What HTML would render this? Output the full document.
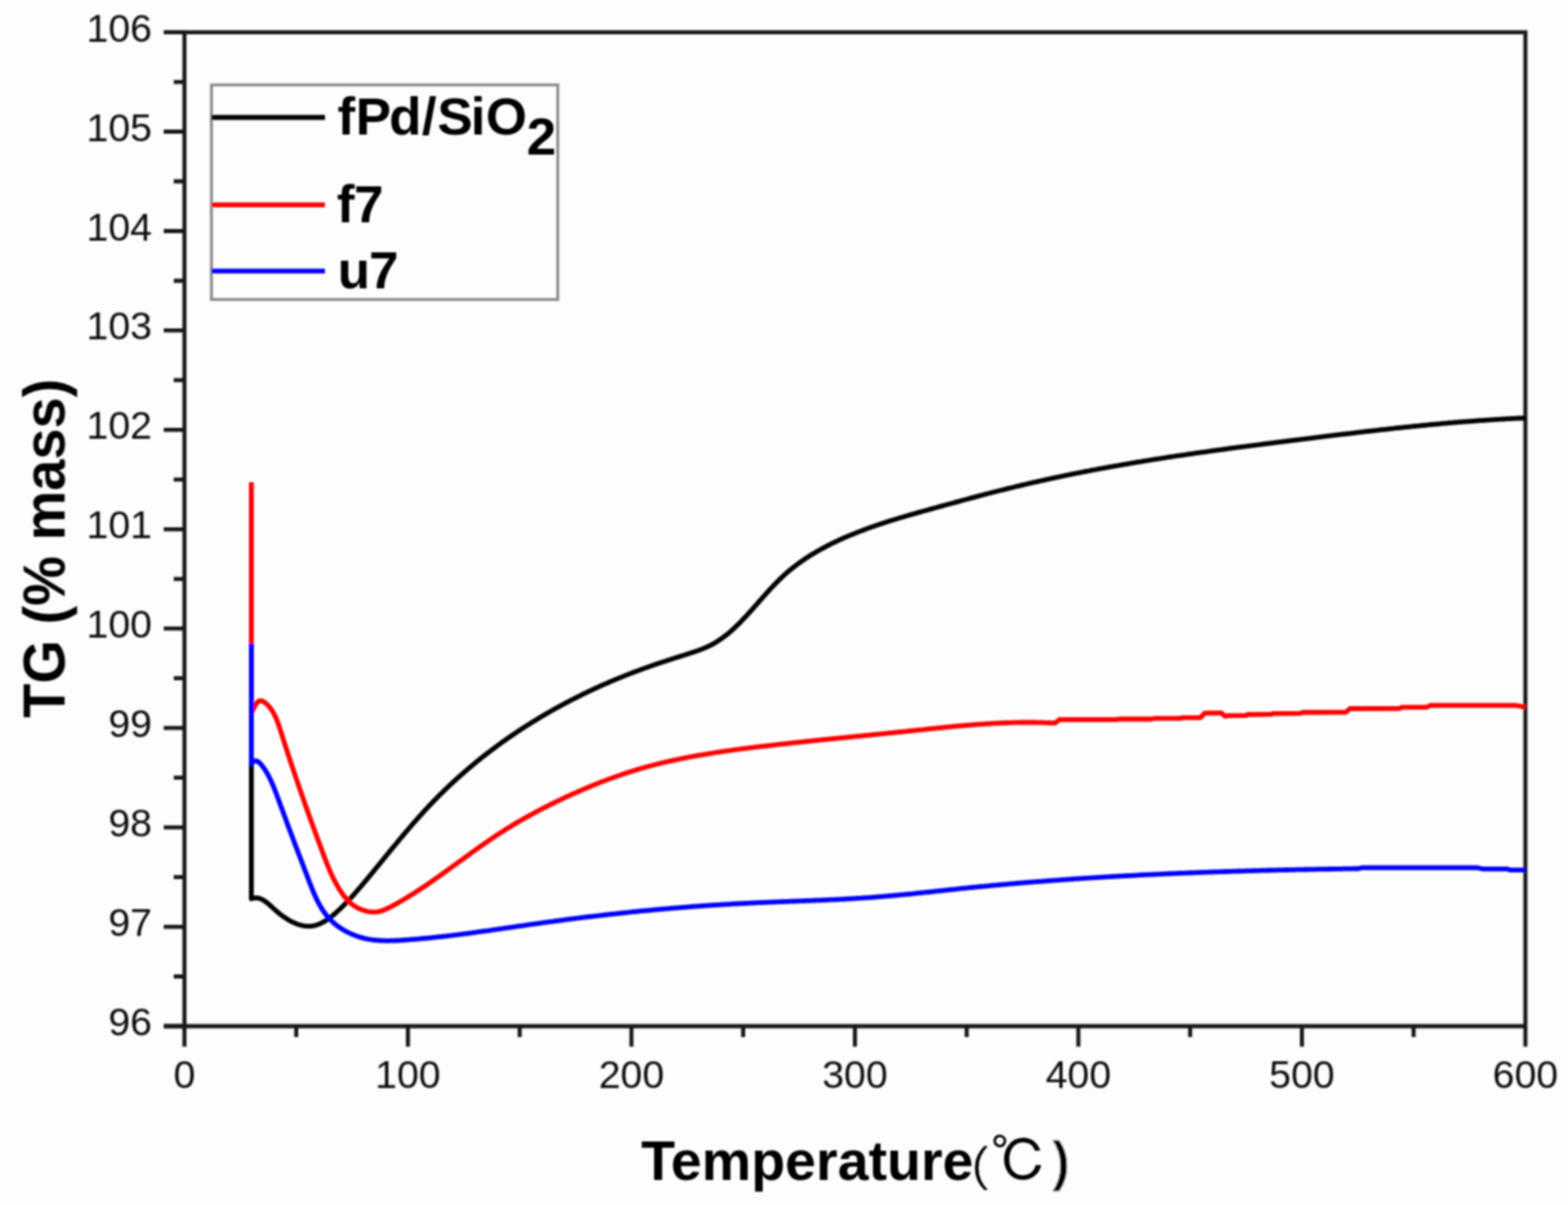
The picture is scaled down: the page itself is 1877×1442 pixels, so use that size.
<!DOCTYPE html>
<html><head><meta charset="utf-8"><title>TG curves</title>
<style>
html,body{margin:0;padding:0;background:#fdfdfd;}
body{width:1877px;height:1442px;overflow:hidden;}
svg{display:block;}
.sans{font-family:"Liberation Sans","Noto Sans CJK SC",sans-serif;}
</style></head>
<body>
<svg width="1877" height="1442" viewBox="0 0 1877 1442">
<defs><filter id="bl" x="0" y="0" width="1877" height="1442" filterUnits="userSpaceOnUse"><feGaussianBlur stdDeviation="0.9"/></filter></defs>
<rect width="1877" height="1442" fill="#fdfdfd"/>
<g filter="url(#bl)">
<g fill="none" stroke="#151515" stroke-width="4.8">
<path d="M196 38.6 H1826.0 V1228.0"/>
<path d="M220.8 38.6 V1228.0"/>
<path d="M196 1228.0 H1826.0"/>
<path d="M196 1228.0 H220.8 M208 1168.5 H220.8 M196 1109.1 H220.8 M208 1049.6 H220.8 M196 990.1 H220.8 M208 930.6 H220.8 M196 871.2 H220.8 M208 811.7 H220.8 M196 752.2 H220.8 M208 692.8 H220.8 M196 633.3 H220.8 M208 573.8 H220.8 M196 514.4 H220.8 M208 454.9 H220.8 M196 395.4 H220.8 M208 336.0 H220.8 M196 276.5 H220.8 M208 217.0 H220.8 M196 157.5 H220.8 M208 98.1 H220.8 M196 38.6 H220.8 M220.8 1228.0 V1252.5 M354.6 1228.0 V1241 M488.3 1228.0 V1252.5 M622.1 1228.0 V1241 M755.9 1228.0 V1252.5 M889.6 1228.0 V1241 M1023.4 1228.0 V1252.5 M1157.2 1228.0 V1241 M1290.9 1228.0 V1252.5 M1424.7 1228.0 V1241 M1558.5 1228.0 V1252.5 M1692.2 1228.0 V1241 M1826.0 1228.0 V1252.5"/>
</g>
<g class="sans" font-size="47" fill="#111">
<text x="182" y="1239.0" text-anchor="end">96</text>
<text x="182" y="1120.1" text-anchor="end">97</text>
<text x="182" y="1001.1" text-anchor="end">98</text>
<text x="182" y="882.2" text-anchor="end">99</text>
<text x="182" y="763.2" text-anchor="end">100</text>
<text x="182" y="644.3" text-anchor="end">101</text>
<text x="182" y="525.4" text-anchor="end">102</text>
<text x="182" y="406.4" text-anchor="end">103</text>
<text x="182" y="287.5" text-anchor="end">104</text>
<text x="182" y="168.5" text-anchor="end">105</text>
<text x="182" y="49.6" text-anchor="end">106</text>
<text x="220.8" y="1302" text-anchor="middle">0</text>
<text x="488.3" y="1302" text-anchor="middle">100</text>
<text x="755.9" y="1302" text-anchor="middle">200</text>
<text x="1023.4" y="1302" text-anchor="middle">300</text>
<text x="1290.9" y="1302" text-anchor="middle">400</text>
<text x="1558.5" y="1302" text-anchor="middle">500</text>
<text x="1826.0" y="1302" text-anchor="middle">600</text>
</g>
<g fill="none" stroke-width="5.8" stroke-linejoin="round" stroke-linecap="butt">
<path stroke="#000" d="M300.9 905.0L300.9 1075.5L302.8 1074.9L304.6 1074.6L306.4 1074.5L308.1 1074.6L309.7 1074.9L311.4 1075.4L313.0 1076.0L314.6 1076.8L316.1 1077.7L317.6 1078.8L319.1 1079.9L320.7 1081.1L322.2 1082.4L323.7 1083.8L325.2 1085.1L326.7 1086.5L328.3 1088.0L329.9 1089.4L331.5 1090.8L333.1 1092.1L334.7 1093.5L336.4 1094.8L338.1 1096.0L339.9 1097.3L341.6 1098.4L343.4 1099.6L345.2 1100.7L346.9 1101.7L348.8 1102.7L350.6 1103.6L352.4 1104.4L354.2 1105.2L356.1 1105.9L357.9 1106.5L359.8 1107.1L361.7 1107.5L363.5 1107.9L365.4 1108.2L367.2 1108.3L369.1 1108.4L370.9 1108.4L372.7 1108.3L374.6 1108.0L376.4 1107.7L378.2 1107.2L380.0 1106.6L381.8 1105.9L383.5 1105.2L385.3 1104.3L387.0 1103.4L388.7 1102.4L390.4 1101.4L392.1 1100.2L393.8 1099.0L395.5 1097.8L397.1 1096.5L398.8 1095.2L400.4 1093.8L402.0 1092.4L403.5 1091.0L405.1 1089.5L406.6 1088.1L408.2 1086.6L409.6 1085.2L411.1 1083.7L412.6 1082.2L414.0 1080.8L415.5 1079.3L416.9 1077.8L418.3 1076.3L419.6 1074.9L421.0 1073.4L422.3 1071.9L423.7 1070.4L425.0 1068.9L426.3 1067.4L427.6 1065.9L428.9 1064.4L430.2 1062.9L431.5 1061.5L432.8 1059.9L434.1 1058.4L435.3 1056.9L436.6 1055.4L437.9 1053.9L439.1 1052.4L440.4 1050.9L441.6 1049.4L442.9 1047.8L444.1 1046.3L445.4 1044.8L446.7 1043.2L447.9 1041.7L449.2 1040.2L450.4 1038.6L451.7 1037.1L452.9 1035.6L454.2 1034.0L455.5 1032.5L456.7 1030.9L458.0 1029.4L459.2 1027.8L460.5 1026.3L461.8 1024.7L463.0 1023.2L464.3 1021.6L465.6 1020.1L466.8 1018.5L468.1 1017.0L469.4 1015.4L470.6 1013.9L471.9 1012.3L473.2 1010.8L474.5 1009.3L475.8 1007.7L477.0 1006.2L478.3 1004.6L479.6 1003.1L480.9 1001.5L482.2 1000.0L483.5 998.5L484.8 996.9L486.1 995.4L487.4 993.8L488.7 992.3L490.0 990.8L491.3 989.3L492.7 987.7L494.0 986.2L495.3 984.7L496.6 983.2L498.0 981.7L499.3 980.2L500.6 978.7L502.0 977.2L503.3 975.7L504.7 974.2L506.0 972.7L507.4 971.2L508.7 969.7L510.1 968.2L511.5 966.8L512.8 965.3L514.2 963.8L515.6 962.4L517.0 960.9L518.4 959.5L519.8 958.0L521.2 956.6L522.6 955.2L524.0 953.8L525.4 952.3L526.8 950.9L528.3 949.5L529.7 948.1L531.1 946.7L532.6 945.3L534.0 943.9L535.5 942.5L536.9 941.1L538.4 939.8L539.8 938.4L541.3 937.0L542.8 935.7L544.2 934.3L545.7 933.0L547.2 931.6L548.7 930.3L550.2 929.0L551.7 927.6L553.2 926.3L554.7 925.0L556.2 923.7L557.7 922.4L559.2 921.1L560.8 919.8L562.3 918.5L563.8 917.2L565.4 915.9L566.9 914.6L568.4 913.4L570.0 912.1L571.5 910.8L573.1 909.6L574.6 908.3L576.2 907.1L577.8 905.8L579.3 904.6L580.9 903.4L582.5 902.1L584.1 900.9L585.7 899.7L587.3 898.5L588.9 897.3L590.5 896.1L592.1 894.9L593.7 893.7L595.3 892.5L596.9 891.3L598.5 890.2L600.1 889.0L601.7 887.8L603.4 886.7L605.0 885.5L606.6 884.4L608.3 883.2L609.9 882.1L611.6 880.9L613.2 879.8L614.9 878.7L616.5 877.6L618.2 876.5L619.8 875.3L621.5 874.2L623.2 873.1L624.9 872.1L626.5 871.0L628.2 869.9L629.9 868.8L631.6 867.7L633.3 866.7L635.0 865.6L636.7 864.5L638.4 863.5L640.1 862.4L641.8 861.4L643.5 860.4L645.2 859.3L646.9 858.3L648.6 857.3L650.3 856.3L652.1 855.2L653.8 854.2L655.5 853.2L657.3 852.2L659.0 851.2L660.7 850.3L662.5 849.3L664.2 848.3L666.0 847.3L667.7 846.4L669.5 845.4L671.2 844.4L673.0 843.5L674.8 842.5L676.5 841.6L678.3 840.7L680.1 839.7L681.9 838.8L683.6 837.9L685.4 837.0L687.2 836.1L689.0 835.2L690.8 834.3L692.6 833.4L694.4 832.5L696.1 831.6L697.9 830.7L699.7 829.8L701.6 829.0L703.4 828.1L705.2 827.2L707.0 826.4L708.8 825.5L710.6 824.7L712.4 823.8L714.2 823.0L716.1 822.2L717.9 821.4L719.7 820.5L721.6 819.7L723.4 818.9L725.2 818.1L727.1 817.3L728.9 816.5L730.7 815.7L732.6 814.9L734.4 814.2L736.3 813.4L738.1 812.6L740.0 811.8L741.8 811.1L743.7 810.3L745.5 809.6L747.4 808.8L749.3 808.1L751.1 807.4L753.0 806.6L754.9 805.9L756.7 805.2L758.6 804.5L760.5 803.8L762.4 803.1L764.2 802.4L766.1 801.7L768.0 801.0L769.9 800.3L771.8 799.6L773.7 798.9L775.6 798.3L777.4 797.6L779.3 797.0L781.2 796.3L783.1 795.6L785.0 795.0L786.9 794.3L788.8 793.7L790.7 793.1L792.6 792.4L794.5 791.8L796.4 791.2L798.4 790.5L800.3 789.9L802.2 789.3L804.1 788.7L806.0 788.1L807.9 787.4L809.8 786.8L811.7 786.2L813.7 785.6L815.6 785.0L817.5 784.4L819.4 783.8L821.3 783.2L823.3 782.5L825.2 781.9L827.1 781.3L829.0 780.7L831.0 780.1L832.9 779.4L834.8 778.8L836.7 778.1L838.5 777.4L840.4 776.7L842.3 775.9L844.1 775.2L845.9 774.4L847.7 773.6L849.5 772.7L851.3 771.8L853.0 770.9L854.7 769.9L856.4 768.9L858.1 767.9L859.8 766.8L861.4 765.8L863.0 764.6L864.7 763.5L866.2 762.3L867.8 761.1L869.4 759.9L870.9 758.7L872.5 757.4L874.0 756.1L875.5 754.8L877.0 753.5L878.4 752.1L879.9 750.8L881.3 749.4L882.8 748.0L884.2 746.6L885.6 745.2L887.0 743.7L888.4 742.3L889.8 740.8L891.2 739.4L892.6 737.9L894.0 736.4L895.3 734.9L896.7 733.4L898.0 731.9L899.4 730.4L900.7 728.9L902.1 727.4L903.4 725.9L904.7 724.4L906.1 722.9L907.4 721.4L908.7 719.8L910.1 718.3L911.4 716.8L912.7 715.3L914.1 713.8L915.4 712.3L916.8 710.8L918.1 709.3L919.5 707.8L920.8 706.3L922.2 704.8L923.5 703.4L924.9 701.9L926.3 700.5L927.7 699.0L929.1 697.6L930.5 696.2L931.9 694.7L933.3 693.3L934.8 692.0L936.2 690.6L937.7 689.2L939.1 687.9L940.6 686.5L942.1 685.2L943.6 683.9L945.1 682.6L946.7 681.4L948.2 680.1L949.8 678.9L951.4 677.7L952.9 676.5L954.5 675.3L956.1 674.1L957.8 672.9L959.4 671.8L961.0 670.6L962.7 669.5L964.3 668.4L966.0 667.3L967.7 666.2L969.3 665.1L971.0 664.1L972.7 663.0L974.5 662.0L976.2 661.0L977.9 660.0L979.6 659.0L981.4 658.0L983.1 657.0L984.9 656.1L986.7 655.1L988.4 654.2L990.2 653.2L992.0 652.3L993.8 651.4L995.6 650.5L997.4 649.6L999.2 648.8L1001.0 647.9L1002.8 647.1L1004.7 646.2L1006.5 645.4L1008.3 644.6L1010.2 643.7L1012.0 642.9L1013.8 642.2L1015.7 641.4L1017.5 640.6L1019.4 639.8L1021.3 639.1L1023.1 638.3L1025.0 637.6L1026.8 636.8L1028.7 636.1L1030.6 635.4L1032.5 634.7L1034.3 634.0L1036.2 633.3L1038.1 632.6L1040.0 631.9L1041.9 631.2L1043.7 630.6L1045.6 629.9L1047.5 629.3L1049.4 628.6L1051.3 628.0L1053.2 627.3L1055.1 626.7L1057.0 626.1L1058.9 625.5L1060.8 624.8L1062.7 624.2L1064.6 623.6L1066.5 623.0L1068.4 622.4L1070.3 621.8L1072.3 621.3L1074.2 620.7L1076.1 620.1L1078.0 619.5L1079.9 619.0L1081.8 618.4L1083.8 617.8L1085.7 617.3L1087.6 616.7L1089.5 616.1L1091.4 615.6L1093.4 615.0L1095.3 614.5L1097.2 613.9L1099.1 613.4L1101.1 612.9L1103.0 612.3L1104.9 611.8L1106.9 611.2L1108.8 610.7L1110.7 610.2L1112.6 609.6L1114.6 609.1L1116.5 608.6L1118.4 608.0L1120.4 607.5L1122.3 607.0L1124.2 606.4L1126.2 605.9L1128.1 605.4L1130.0 604.8L1132.0 604.3L1133.9 603.8L1135.8 603.2L1137.8 602.7L1139.7 602.2L1141.6 601.7L1143.6 601.1L1145.5 600.6L1147.4 600.1L1149.4 599.6L1151.3 599.0L1153.2 598.5L1155.2 598.0L1157.1 597.5L1159.0 597.0L1161.0 596.4L1162.9 595.9L1164.8 595.4L1166.8 594.9L1168.7 594.4L1170.6 593.9L1172.6 593.3L1174.5 592.8L1176.5 592.3L1178.4 591.8L1180.3 591.3L1182.3 590.8L1184.2 590.3L1186.2 589.8L1188.1 589.3L1190.0 588.8L1192.0 588.3L1193.9 587.8L1195.9 587.3L1197.8 586.8L1199.8 586.3L1201.7 585.9L1203.6 585.4L1205.6 584.9L1207.5 584.4L1209.5 583.9L1211.4 583.5L1213.4 583.0L1215.3 582.5L1217.3 582.0L1219.2 581.6L1221.2 581.1L1223.1 580.6L1225.0 580.2L1227.0 579.7L1228.9 579.3L1230.9 578.8L1232.8 578.3L1234.8 577.9L1236.7 577.4L1238.7 577.0L1240.7 576.6L1242.6 576.1L1244.6 575.7L1246.5 575.2L1248.5 574.8L1250.4 574.4L1252.4 573.9L1254.3 573.5L1256.3 573.1L1258.2 572.7L1260.2 572.2L1262.2 571.8L1264.1 571.4L1266.1 571.0L1268.0 570.6L1270.0 570.2L1272.0 569.8L1273.9 569.3L1275.9 568.9L1277.8 568.5L1279.8 568.1L1281.8 567.7L1283.7 567.3L1285.7 566.9L1287.6 566.5L1289.6 566.2L1291.6 565.8L1293.5 565.4L1295.5 565.0L1297.5 564.6L1299.4 564.2L1301.4 563.8L1303.4 563.5L1305.3 563.1L1307.3 562.7L1309.3 562.3L1311.2 562.0L1313.2 561.6L1315.2 561.2L1317.1 560.9L1319.1 560.5L1321.1 560.1L1323.0 559.8L1325.0 559.4L1327.0 559.1L1328.9 558.7L1330.9 558.4L1332.9 558.0L1334.9 557.7L1336.8 557.3L1338.8 557.0L1340.8 556.6L1342.7 556.3L1344.7 555.9L1346.7 555.6L1348.7 555.3L1350.6 554.9L1352.6 554.6L1354.6 554.2L1356.6 553.9L1358.5 553.6L1360.5 553.2L1362.5 552.9L1364.5 552.6L1366.4 552.3L1368.4 551.9L1370.4 551.6L1372.4 551.3L1374.3 551.0L1376.3 550.7L1378.3 550.3L1380.3 550.0L1382.3 549.7L1384.2 549.4L1386.2 549.1L1388.2 548.8L1390.2 548.5L1392.2 548.2L1394.1 547.9L1396.1 547.5L1398.1 547.2L1400.1 546.9L1402.1 546.6L1404.0 546.3L1406.0 546.0L1408.0 545.7L1410.0 545.4L1412.0 545.1L1413.9 544.9L1415.9 544.6L1417.9 544.3L1419.9 544.0L1421.9 543.7L1423.8 543.4L1425.8 543.1L1427.8 542.8L1429.8 542.5L1431.8 542.2L1433.8 542.0L1435.7 541.7L1437.7 541.4L1439.7 541.1L1441.7 540.8L1443.7 540.6L1445.7 540.3L1447.7 540.0L1449.6 539.7L1451.6 539.5L1453.6 539.2L1455.6 538.9L1457.6 538.6L1459.6 538.4L1461.6 538.1L1463.5 537.8L1465.5 537.5L1467.5 537.3L1469.5 537.0L1471.5 536.7L1473.5 536.5L1475.5 536.2L1477.4 535.9L1479.4 535.7L1481.4 535.4L1483.4 535.2L1485.4 534.9L1487.4 534.6L1489.4 534.4L1491.4 534.1L1493.3 533.9L1495.3 533.6L1497.3 533.3L1499.3 533.1L1501.3 532.8L1503.3 532.6L1505.3 532.3L1507.3 532.1L1509.2 531.8L1511.2 531.5L1513.2 531.3L1515.2 531.0L1517.2 530.8L1519.2 530.5L1521.2 530.3L1523.2 530.0L1525.1 529.8L1527.1 529.5L1529.1 529.3L1531.1 529.0L1533.1 528.8L1535.1 528.5L1537.1 528.3L1539.1 528.0L1541.1 527.8L1543.0 527.5L1545.0 527.3L1547.0 527.0L1549.0 526.8L1551.0 526.5L1553.0 526.3L1555.0 526.1L1557.0 525.8L1559.0 525.6L1560.9 525.3L1562.9 525.1L1564.9 524.8L1566.9 524.6L1568.9 524.3L1570.9 524.1L1572.9 523.8L1574.9 523.6L1576.9 523.4L1578.8 523.1L1580.8 522.9L1582.8 522.6L1584.8 522.4L1586.8 522.1L1588.8 521.9L1590.8 521.7L1592.8 521.4L1594.7 521.2L1596.7 520.9L1598.7 520.7L1600.7 520.5L1602.7 520.2L1604.7 520.0L1606.7 519.7L1608.7 519.5L1610.7 519.3L1612.6 519.0L1614.6 518.8L1616.6 518.6L1618.6 518.3L1620.6 518.1L1622.6 517.8L1624.6 517.6L1626.6 517.4L1628.6 517.1L1630.5 516.9L1632.5 516.7L1634.5 516.5L1636.5 516.2L1638.5 516.0L1640.5 515.8L1642.5 515.5L1644.5 515.3L1646.5 515.1L1648.4 514.9L1650.4 514.6L1652.4 514.4L1654.4 514.2L1656.4 514.0L1658.4 513.8L1660.4 513.5L1662.4 513.3L1664.4 513.1L1666.3 512.9L1668.3 512.7L1670.3 512.4L1672.3 512.2L1674.3 512.0L1676.3 511.8L1678.3 511.6L1680.3 511.4L1682.3 511.2L1684.3 511.0L1686.3 510.8L1688.2 510.6L1690.2 510.4L1692.2 510.2L1694.2 510.0L1696.2 509.8L1698.2 509.6L1700.2 509.4L1702.2 509.2L1704.2 509.0L1706.2 508.8L1708.2 508.6L1710.2 508.4L1712.1 508.2L1714.1 508.0L1716.1 507.8L1718.1 507.6L1720.1 507.5L1722.1 507.3L1724.1 507.1L1726.1 506.9L1728.1 506.7L1730.1 506.6L1732.1 506.4L1734.1 506.2L1736.1 506.0L1738.1 505.9L1740.1 505.7L1742.0 505.5L1744.0 505.4L1746.0 505.2L1748.0 505.0L1750.0 504.9L1752.0 504.7L1754.0 504.6L1756.0 504.4L1758.0 504.3L1760.0 504.1L1762.0 504.0L1764.0 503.8L1766.0 503.7L1768.0 503.5L1770.0 503.4L1772.0 503.2L1774.0 503.1L1776.0 503.0L1778.0 502.8L1780.0 502.7L1782.0 502.6L1784.0 502.4L1786.0 502.3L1788.0 502.2L1790.0 502.1L1792.0 501.9L1794.0 501.8L1796.0 501.7L1798.0 501.6L1800.0 501.5L1802.0 501.4L1804.0 501.2L1806.0 501.1L1808.0 501.0L1810.0 500.9L1812.0 500.8L1814.0 500.7L1816.0 500.6L1818.0 500.5L1820.0 500.5L1822.0 500.4L1824.0 500.3L1826.0 500.2"/>
<path stroke="#ff0000" d="M300.9 577.0L300.9 853.0L301.9 851.3L302.9 849.4L303.9 847.3L304.9 845.2L306.0 843.2L307.2 841.4L308.4 840.1L309.8 839.1L311.2 838.6L312.7 838.6L314.3 839.0L315.8 839.9L317.4 841.0L318.8 842.2L320.2 843.4L321.5 844.8L322.7 846.2L323.9 847.7L325.0 849.2L326.0 850.8L327.0 852.5L327.9 854.2L328.8 855.9L329.7 857.7L330.5 859.5L331.3 861.4L332.0 863.3L332.7 865.2L333.4 867.1L334.1 869.1L334.8 871.0L335.4 873.0L336.0 875.0L336.7 877.0L337.3 879.0L337.9 880.9L338.5 882.9L339.2 884.9L339.8 886.8L340.4 888.8L341.0 890.7L341.7 892.7L342.3 894.6L342.9 896.6L343.6 898.5L344.2 900.4L344.8 902.4L345.5 904.3L346.1 906.2L346.7 908.1L347.3 910.1L348.0 912.0L348.6 913.9L349.2 915.8L349.9 917.7L350.5 919.6L351.2 921.5L351.8 923.4L352.4 925.3L353.1 927.2L353.7 929.1L354.3 931.0L355.0 932.8L355.6 934.7L356.3 936.6L356.9 938.5L357.6 940.4L358.2 942.2L358.9 944.1L359.5 946.0L360.1 947.9L360.8 949.7L361.5 951.6L362.1 953.5L362.8 955.3L363.4 957.2L364.1 959.1L364.7 961.0L365.4 962.8L366.0 964.7L366.7 966.6L367.4 968.4L368.0 970.3L368.7 972.2L369.4 974.0L370.0 975.9L370.7 977.8L371.4 979.6L372.0 981.5L372.7 983.4L373.4 985.2L374.1 987.1L374.8 989.0L375.4 990.9L376.1 992.7L376.8 994.6L377.5 996.5L378.2 998.4L378.9 1000.3L379.6 1002.1L380.3 1004.0L381.0 1005.9L381.7 1007.8L382.4 1009.7L383.1 1011.6L383.8 1013.5L384.5 1015.4L385.2 1017.3L385.9 1019.2L386.6 1021.1L387.3 1023.0L388.0 1024.9L388.8 1026.8L389.5 1028.7L390.2 1030.6L391.0 1032.5L391.7 1034.4L392.5 1036.3L393.3 1038.2L394.0 1040.1L394.8 1042.0L395.7 1043.8L396.5 1045.7L397.3 1047.5L398.2 1049.3L399.1 1051.2L400.0 1053.0L400.9 1054.7L401.8 1056.5L402.8 1058.2L403.7 1060.0L404.8 1061.7L405.8 1063.4L406.8 1065.0L407.9 1066.7L409.0 1068.3L410.2 1069.9L411.3 1071.5L412.5 1073.0L413.8 1074.5L415.0 1076.0L416.3 1077.4L417.7 1078.8L419.1 1080.2L420.6 1081.5L422.2 1082.7L423.8 1083.9L425.5 1085.0L427.3 1086.0L429.1 1087.0L431.0 1087.8L433.0 1088.6L434.9 1089.3L437.0 1089.9L439.0 1090.5L441.1 1090.9L443.1 1091.2L445.2 1091.3L447.3 1091.4L449.3 1091.4L451.3 1091.2L453.3 1090.9L455.2 1090.4L457.1 1089.9L459.0 1089.2L460.8 1088.5L462.6 1087.7L464.4 1086.8L466.2 1085.9L468.0 1085.0L469.7 1084.1L471.5 1083.1L473.3 1082.1L475.0 1081.2L476.7 1080.2L478.5 1079.2L480.2 1078.2L481.9 1077.2L483.7 1076.2L485.4 1075.2L487.1 1074.1L488.8 1073.1L490.5 1072.0L492.2 1071.0L493.9 1069.9L495.6 1068.9L497.3 1067.8L498.9 1066.7L500.6 1065.6L502.3 1064.5L504.0 1063.4L505.6 1062.3L507.3 1061.2L509.0 1060.1L510.6 1059.0L512.3 1057.9L513.9 1056.7L515.6 1055.6L517.2 1054.5L518.9 1053.3L520.5 1052.2L522.1 1051.0L523.8 1049.9L525.4 1048.7L527.0 1047.5L528.7 1046.4L530.3 1045.2L531.9 1044.1L533.6 1042.9L535.2 1041.7L536.8 1040.5L538.4 1039.4L540.1 1038.2L541.7 1037.0L543.3 1035.8L544.9 1034.7L546.5 1033.5L548.2 1032.3L549.8 1031.1L551.4 1029.9L553.0 1028.8L554.7 1027.6L556.3 1026.4L557.9 1025.2L559.5 1024.0L561.2 1022.9L562.8 1021.7L564.4 1020.5L566.0 1019.3L567.7 1018.2L569.3 1017.0L570.9 1015.8L572.6 1014.7L574.2 1013.5L575.8 1012.4L577.5 1011.2L579.1 1010.1L580.8 1008.9L582.4 1007.8L584.1 1006.6L585.7 1005.5L587.4 1004.4L589.0 1003.3L590.7 1002.1L592.4 1001.0L594.0 999.9L595.7 998.8L597.4 997.7L599.1 996.6L600.8 995.6L602.5 994.5L604.1 993.4L605.8 992.3L607.5 991.3L609.2 990.2L611.0 989.2L612.7 988.1L614.4 987.1L616.1 986.1L617.8 985.1L619.5 984.0L621.3 983.0L623.0 982.0L624.7 981.0L626.5 980.0L628.2 979.0L630.0 978.1L631.7 977.1L633.5 976.1L635.2 975.2L637.0 974.2L638.8 973.2L640.5 972.3L642.3 971.3L644.1 970.4L645.8 969.5L647.6 968.5L649.4 967.6L651.2 966.7L653.0 965.8L654.8 964.9L656.6 964.0L658.3 963.1L660.1 962.2L661.9 961.3L663.7 960.4L665.5 959.6L667.4 958.7L669.2 957.8L671.0 957.0L672.8 956.1L674.6 955.2L676.4 954.4L678.2 953.5L680.1 952.7L681.9 951.9L683.7 951.0L685.5 950.2L687.4 949.4L689.2 948.6L691.0 947.8L692.9 947.0L694.7 946.2L696.5 945.4L698.4 944.6L700.2 943.8L702.1 943.0L703.9 942.2L705.8 941.5L707.6 940.7L709.5 939.9L711.3 939.2L713.2 938.4L715.1 937.7L716.9 936.9L718.8 936.2L720.6 935.5L722.5 934.8L724.4 934.1L726.3 933.3L728.1 932.6L730.0 931.9L731.9 931.3L733.8 930.6L735.7 929.9L737.5 929.2L739.4 928.6L741.3 927.9L743.2 927.3L745.1 926.6L747.0 926.0L748.9 925.3L750.8 924.7L752.7 924.1L754.6 923.5L756.5 922.9L758.4 922.3L760.3 921.7L762.2 921.1L764.1 920.6L766.1 920.0L768.0 919.4L769.9 918.9L771.8 918.3L773.8 917.8L775.7 917.3L777.6 916.7L779.5 916.2L781.5 915.7L783.4 915.2L785.3 914.7L787.3 914.2L789.2 913.8L791.2 913.3L793.1 912.8L795.1 912.3L797.0 911.9L798.9 911.4L800.9 911.0L802.8 910.6L804.8 910.1L806.8 909.7L808.7 909.3L810.7 908.9L812.6 908.5L814.6 908.1L816.6 907.7L818.5 907.3L820.5 906.9L822.4 906.5L824.4 906.1L826.4 905.7L828.4 905.4L830.3 905.0L832.3 904.6L834.3 904.3L836.2 903.9L838.2 903.6L840.2 903.3L842.2 902.9L844.2 902.6L846.1 902.3L848.1 901.9L850.1 901.6L852.1 901.3L854.1 901.0L856.0 900.7L858.0 900.4L860.0 900.1L862.0 899.8L864.0 899.5L866.0 899.2L868.0 898.9L869.9 898.6L871.9 898.3L873.9 898.1L875.9 897.8L877.9 897.5L879.9 897.2L881.9 897.0L883.9 896.7L885.9 896.4L887.9 896.2L889.8 895.9L891.8 895.7L893.8 895.4L895.8 895.2L897.8 894.9L899.8 894.7L901.8 894.4L903.8 894.2L905.8 893.9L907.8 893.7L909.8 893.5L911.8 893.2L913.8 893.0L915.8 892.8L917.7 892.5L919.7 892.3L921.7 892.1L923.7 891.8L925.7 891.6L927.7 891.4L929.7 891.1L931.7 890.9L933.7 890.7L935.7 890.5L937.7 890.3L939.7 890.0L941.7 889.8L943.6 889.6L945.6 889.4L947.6 889.2L949.6 888.9L951.6 888.7L953.6 888.5L955.6 888.3L957.6 888.1L959.6 887.9L961.6 887.7L963.6 887.5L965.5 887.2L967.5 887.0L969.5 886.8L971.5 886.6L973.5 886.4L975.5 886.2L977.5 886.0L979.5 885.8L981.5 885.6L983.5 885.4L985.5 885.2L987.5 885.0L989.4 884.8L991.4 884.6L993.4 884.4L995.4 884.2L997.4 884.0L999.4 883.8L1001.4 883.6L1003.4 883.4L1005.4 883.2L1007.4 883.0L1009.4 882.8L1011.3 882.6L1013.3 882.4L1015.3 882.2L1017.3 882.0L1019.3 881.8L1021.3 881.6L1023.3 881.4L1025.3 881.2L1027.3 881.0L1029.3 880.8L1031.3 880.6L1033.3 880.4L1035.2 880.2L1037.2 880.0L1039.2 879.8L1041.2 879.6L1043.2 879.4L1045.2 879.2L1047.2 879.0L1049.2 878.8L1051.2 878.6L1053.2 878.4L1055.2 878.2L1057.2 878.0L1059.1 877.8L1061.1 877.6L1063.1 877.4L1065.1 877.2L1067.1 877.0L1069.1 876.8L1071.1 876.6L1073.1 876.4L1075.1 876.2L1077.1 876.0L1079.1 875.8L1081.1 875.6L1083.1 875.4L1085.1 875.2L1087.0 874.9L1089.0 874.7L1091.0 874.5L1093.0 874.3L1095.0 874.1L1097.0 873.9L1099.0 873.7L1101.0 873.5L1103.0 873.3L1105.0 873.1L1107.0 872.8L1109.0 872.6L1111.0 872.4L1113.0 872.2L1115.0 872.0L1117.0 871.8L1119.0 871.6L1121.0 871.4L1122.9 871.2L1124.9 871.0L1126.9 870.8L1128.9 870.6L1130.9 870.4L1132.9 870.2L1134.9 870.0L1136.9 869.8L1138.9 869.6L1140.9 869.4L1142.9 869.2L1144.9 869.1L1146.9 868.9L1148.9 868.7L1150.9 868.5L1152.9 868.3L1154.9 868.2L1156.9 868.0L1158.9 867.8L1160.9 867.7L1162.9 867.5L1164.9 867.3L1166.9 867.2L1168.9 867.0L1170.9 866.9L1172.9 866.7L1174.9 866.6L1176.9 866.5L1178.9 866.3L1180.9 866.2L1182.9 866.1L1184.9 865.9L1186.9 865.8L1188.9 865.7L1190.9 865.6L1192.9 865.5L1194.9 865.4L1196.9 865.3L1198.9 865.2L1200.9 865.1L1202.9 865.0L1204.9 865.0L1206.9 864.9L1208.9 864.8L1210.9 864.8L1212.9 864.7L1214.9 864.7L1216.9 864.6L1218.9 864.6L1220.9 864.5L1222.9 864.5L1224.9 864.5L1226.9 864.5L1228.9 864.5L1230.9 864.5L1232.9 864.5L1234.9 864.5L1236.9 864.5L1238.9 864.5L1240.9 864.6L1242.9 864.6L1244.9 864.6L1247.0 864.7L1249.0 864.7L1251.0 864.8L1253.0 864.9L1255.0 865.0L1257.0 865.0L1259.0 865.1L1261.0 865.2L1263.0 865.4L1268.0 861.2L1336.0 861.2L1340.0 860.5L1378.0 860.5L1383.0 859.6L1412.0 859.6L1416.0 858.8L1437.0 858.8L1442.0 853.4L1462.0 853.2L1466.5 857.2L1470.0 856.4L1491.0 856.2L1494.0 855.0L1521.0 854.9L1525.0 853.8L1556.0 853.6L1560.0 852.5L1611.0 852.4L1616.0 848.0L1675.0 847.9L1678.0 846.4L1708.0 846.3L1712.0 844.2L1814.0 844.2L1826.0 846.2"/>
<path stroke="#0000ff" d="M300.9 770.0L300.9 913.8L302.6 912.0L304.2 910.9L305.8 910.5L307.2 910.6L308.5 911.2L309.8 912.1L311.1 913.3L312.3 914.6L313.4 915.9L314.5 917.4L315.6 918.8L316.7 920.4L317.7 921.9L318.7 923.6L319.7 925.2L320.7 926.9L321.6 928.7L322.5 930.5L323.4 932.3L324.3 934.1L325.1 936.0L326.0 937.9L326.8 939.8L327.6 941.7L328.4 943.7L329.1 945.6L329.9 947.6L330.7 949.6L331.4 951.6L332.1 953.5L332.9 955.5L333.6 957.5L334.3 959.5L335.0 961.5L335.7 963.4L336.4 965.4L337.2 967.3L337.9 969.2L338.6 971.1L339.3 973.0L340.0 975.0L340.7 976.8L341.4 978.7L342.1 980.6L342.8 982.5L343.5 984.4L344.1 986.2L344.8 988.1L345.5 989.9L346.2 991.8L346.9 993.6L347.6 995.5L348.3 997.3L349.0 999.2L349.7 1001.0L350.4 1002.8L351.1 1004.7L351.7 1006.5L352.4 1008.3L353.1 1010.1L353.8 1012.0L354.5 1013.8L355.2 1015.6L355.9 1017.4L356.6 1019.3L357.3 1021.1L358.0 1022.9L358.7 1024.8L359.4 1026.6L360.1 1028.4L360.8 1030.3L361.5 1032.1L362.2 1034.0L362.9 1035.8L363.6 1037.7L364.3 1039.5L365.0 1041.4L365.7 1043.3L366.5 1045.2L367.2 1047.0L367.9 1048.9L368.6 1050.8L369.3 1052.8L370.1 1054.7L370.8 1056.6L371.6 1058.5L372.3 1060.4L373.1 1062.4L373.9 1064.3L374.6 1066.2L375.4 1068.1L376.3 1070.0L377.1 1071.9L378.0 1073.8L378.8 1075.6L379.7 1077.5L380.7 1079.3L381.6 1081.1L382.6 1082.9L383.6 1084.7L384.6 1086.4L385.7 1088.1L386.8 1089.8L387.9 1091.4L389.1 1093.1L390.3 1094.7L391.5 1096.2L392.8 1097.7L394.2 1099.2L395.5 1100.6L396.9 1102.0L398.4 1103.4L399.9 1104.7L401.4 1106.0L402.9 1107.2L404.5 1108.4L406.1 1109.6L407.8 1110.7L409.4 1111.7L411.1 1112.8L412.8 1113.8L414.6 1114.7L416.4 1115.7L418.1 1116.5L420.0 1117.4L421.8 1118.2L423.6 1118.9L425.5 1119.6L427.4 1120.3L429.3 1120.9L431.2 1121.5L433.1 1122.1L435.1 1122.6L437.0 1123.1L439.0 1123.5L440.9 1123.9L442.9 1124.2L444.8 1124.5L446.8 1124.8L448.8 1125.0L450.8 1125.2L452.8 1125.4L454.8 1125.5L456.8 1125.6L458.8 1125.7L460.8 1125.7L462.8 1125.8L464.8 1125.8L466.8 1125.7L468.8 1125.7L470.8 1125.6L472.8 1125.6L474.9 1125.5L476.9 1125.4L478.9 1125.3L480.9 1125.1L482.9 1125.0L484.9 1124.9L486.9 1124.7L489.0 1124.6L491.0 1124.4L493.0 1124.2L495.0 1124.1L497.0 1123.9L499.0 1123.8L501.0 1123.6L503.0 1123.4L505.0 1123.2L507.0 1123.0L509.0 1122.8L511.0 1122.6L513.1 1122.5L515.1 1122.3L517.1 1122.0L519.1 1121.8L521.1 1121.6L523.1 1121.4L525.1 1121.2L527.0 1121.0L529.0 1120.8L531.0 1120.5L533.0 1120.3L535.0 1120.1L537.0 1119.8L539.0 1119.6L541.0 1119.4L543.0 1119.1L545.0 1118.9L547.0 1118.6L549.0 1118.4L551.0 1118.1L553.0 1117.9L554.9 1117.6L556.9 1117.4L558.9 1117.1L560.9 1116.8L562.9 1116.6L564.9 1116.3L566.9 1116.0L568.9 1115.8L570.8 1115.5L572.8 1115.2L574.8 1115.0L576.8 1114.7L578.8 1114.4L580.8 1114.1L582.7 1113.8L584.7 1113.6L586.7 1113.3L588.7 1113.0L590.7 1112.7L592.7 1112.4L594.6 1112.2L596.6 1111.9L598.6 1111.6L600.6 1111.3L602.6 1111.0L604.6 1110.7L606.5 1110.4L608.5 1110.2L610.5 1109.9L612.5 1109.6L614.5 1109.3L616.4 1109.0L618.4 1108.7L620.4 1108.4L622.4 1108.1L624.4 1107.9L626.4 1107.6L628.3 1107.3L630.3 1107.0L632.3 1106.7L634.3 1106.4L636.3 1106.2L638.2 1105.9L640.2 1105.6L642.2 1105.3L644.2 1105.0L646.2 1104.8L648.2 1104.5L650.1 1104.2L652.1 1103.9L654.1 1103.7L656.1 1103.4L658.1 1103.1L660.1 1102.8L662.0 1102.6L664.0 1102.3L666.0 1102.0L668.0 1101.8L670.0 1101.5L672.0 1101.3L674.0 1101.0L676.0 1100.7L677.9 1100.5L679.9 1100.2L681.9 1100.0L683.9 1099.7L685.9 1099.5L687.9 1099.2L689.9 1099.0L691.9 1098.7L693.8 1098.5L695.8 1098.2L697.8 1098.0L699.8 1097.7L701.8 1097.5L703.8 1097.2L705.8 1097.0L707.8 1096.8L709.8 1096.5L711.8 1096.3L713.7 1096.1L715.7 1095.8L717.7 1095.6L719.7 1095.4L721.7 1095.1L723.7 1094.9L725.7 1094.7L727.7 1094.5L729.7 1094.2L731.7 1094.0L733.7 1093.8L735.7 1093.6L737.7 1093.3L739.6 1093.1L741.6 1092.9L743.6 1092.7L745.6 1092.5L747.6 1092.3L749.6 1092.1L751.6 1091.9L753.6 1091.7L755.6 1091.4L757.6 1091.2L759.6 1091.0L761.6 1090.8L763.6 1090.6L765.6 1090.4L767.6 1090.2L769.6 1090.0L771.6 1089.9L773.6 1089.7L775.6 1089.5L777.6 1089.3L779.6 1089.1L781.6 1088.9L783.6 1088.7L785.6 1088.5L787.5 1088.4L789.5 1088.2L791.5 1088.0L793.5 1087.8L795.5 1087.6L797.5 1087.5L799.5 1087.3L801.5 1087.1L803.5 1086.9L805.5 1086.8L807.5 1086.6L809.5 1086.4L811.5 1086.3L813.5 1086.1L815.5 1086.0L817.5 1085.8L819.5 1085.6L821.5 1085.5L823.5 1085.3L825.5 1085.2L827.5 1085.0L829.5 1084.9L831.5 1084.7L833.5 1084.6L835.5 1084.4L837.5 1084.3L839.5 1084.1L841.5 1084.0L843.5 1083.9L845.5 1083.7L847.5 1083.6L849.5 1083.4L851.5 1083.3L853.5 1083.2L855.5 1083.1L857.5 1082.9L859.5 1082.8L861.6 1082.7L863.6 1082.5L865.6 1082.4L867.6 1082.3L869.6 1082.2L871.6 1082.1L873.6 1082.0L875.6 1081.8L877.6 1081.7L879.6 1081.6L881.6 1081.5L883.6 1081.4L885.6 1081.3L887.6 1081.2L889.6 1081.1L891.6 1081.0L893.6 1080.9L895.6 1080.8L897.6 1080.7L899.6 1080.6L901.6 1080.5L903.6 1080.4L905.6 1080.3L907.6 1080.2L909.6 1080.1L911.6 1080.1L913.6 1080.0L915.6 1079.9L917.6 1079.8L919.6 1079.7L921.6 1079.6L923.6 1079.6L925.7 1079.5L927.7 1079.4L929.7 1079.3L931.7 1079.2L933.7 1079.2L935.7 1079.1L937.7 1079.0L939.7 1078.9L941.7 1078.9L943.7 1078.8L945.7 1078.7L947.7 1078.6L949.7 1078.5L951.7 1078.5L953.7 1078.4L955.7 1078.3L957.7 1078.2L959.7 1078.2L961.7 1078.1L963.7 1078.0L965.7 1077.9L967.7 1077.9L969.7 1077.8L971.7 1077.7L973.7 1077.6L975.7 1077.5L977.7 1077.4L979.7 1077.4L981.7 1077.3L983.7 1077.2L985.8 1077.1L987.8 1077.0L989.8 1076.9L991.8 1076.8L993.8 1076.7L995.8 1076.7L997.8 1076.6L999.8 1076.5L1001.8 1076.4L1003.8 1076.3L1005.8 1076.2L1007.8 1076.1L1009.8 1076.0L1011.8 1075.9L1013.8 1075.7L1015.8 1075.6L1017.8 1075.5L1019.8 1075.4L1021.8 1075.3L1023.8 1075.2L1025.8 1075.0L1027.8 1074.9L1029.8 1074.8L1031.8 1074.7L1033.8 1074.5L1035.8 1074.4L1037.8 1074.3L1039.8 1074.1L1041.8 1074.0L1043.8 1073.8L1045.8 1073.7L1047.8 1073.5L1049.8 1073.4L1051.8 1073.2L1053.8 1073.1L1055.8 1072.9L1057.8 1072.7L1059.8 1072.6L1061.7 1072.4L1063.7 1072.2L1065.7 1072.0L1067.7 1071.9L1069.7 1071.7L1071.7 1071.5L1073.7 1071.3L1075.7 1071.1L1077.7 1070.9L1079.7 1070.7L1081.7 1070.6L1083.7 1070.4L1085.7 1070.2L1087.7 1070.0L1089.7 1069.8L1091.7 1069.6L1093.7 1069.4L1095.7 1069.1L1097.7 1068.9L1099.7 1068.7L1101.7 1068.5L1103.7 1068.3L1105.6 1068.1L1107.6 1067.9L1109.6 1067.7L1111.6 1067.5L1113.6 1067.3L1115.6 1067.0L1117.6 1066.8L1119.6 1066.6L1121.6 1066.4L1123.6 1066.2L1125.6 1066.0L1127.6 1065.8L1129.6 1065.5L1131.6 1065.3L1133.6 1065.1L1135.6 1064.9L1137.6 1064.7L1139.6 1064.5L1141.6 1064.3L1143.5 1064.1L1145.5 1063.9L1147.5 1063.6L1149.5 1063.4L1151.5 1063.2L1153.5 1063.0L1155.5 1062.8L1157.5 1062.6L1159.5 1062.4L1161.5 1062.2L1163.5 1062.0L1165.5 1061.8L1167.5 1061.6L1169.5 1061.4L1171.5 1061.2L1173.5 1061.0L1175.5 1060.8L1177.5 1060.6L1179.5 1060.5L1181.5 1060.3L1183.5 1060.1L1185.5 1059.9L1187.5 1059.7L1189.5 1059.5L1191.5 1059.3L1193.4 1059.2L1195.4 1059.0L1197.4 1058.8L1199.4 1058.6L1201.4 1058.4L1203.4 1058.3L1205.4 1058.1L1207.4 1057.9L1209.4 1057.7L1211.4 1057.6L1213.4 1057.4L1215.4 1057.2L1217.4 1057.0L1219.4 1056.9L1221.4 1056.7L1223.4 1056.5L1225.4 1056.4L1227.4 1056.2L1229.4 1056.0L1231.4 1055.9L1233.4 1055.7L1235.4 1055.6L1237.4 1055.4L1239.4 1055.2L1241.4 1055.1L1243.4 1054.9L1245.4 1054.8L1247.4 1054.6L1249.4 1054.5L1251.4 1054.3L1253.4 1054.2L1255.4 1054.0L1257.4 1053.9L1259.4 1053.7L1261.4 1053.6L1263.4 1053.4L1265.4 1053.3L1267.4 1053.1L1269.4 1053.0L1271.4 1052.8L1273.4 1052.7L1275.4 1052.6L1277.4 1052.4L1279.4 1052.3L1281.4 1052.1L1283.4 1052.0L1285.4 1051.9L1287.4 1051.7L1289.4 1051.6L1291.4 1051.5L1293.4 1051.3L1295.4 1051.2L1297.4 1051.1L1299.4 1050.9L1301.4 1050.8L1303.4 1050.7L1305.4 1050.6L1307.4 1050.4L1309.4 1050.3L1311.4 1050.2L1313.4 1050.1L1315.4 1049.9L1317.4 1049.8L1319.4 1049.7L1321.4 1049.6L1323.4 1049.4L1325.4 1049.3L1327.4 1049.2L1329.4 1049.1L1331.4 1049.0L1333.4 1048.9L1335.4 1048.8L1337.4 1048.6L1339.4 1048.5L1341.4 1048.4L1343.4 1048.3L1345.4 1048.2L1347.4 1048.1L1349.4 1048.0L1351.4 1047.9L1353.5 1047.8L1355.5 1047.7L1357.5 1047.6L1359.5 1047.5L1361.5 1047.3L1363.5 1047.2L1365.5 1047.1L1367.5 1047.0L1369.5 1046.9L1371.5 1046.8L1373.5 1046.7L1375.5 1046.7L1377.5 1046.6L1379.5 1046.5L1381.5 1046.4L1383.5 1046.3L1385.5 1046.2L1387.5 1046.1L1389.5 1046.0L1391.5 1045.9L1393.5 1045.8L1395.5 1045.7L1397.5 1045.6L1399.5 1045.5L1401.5 1045.5L1403.5 1045.4L1405.5 1045.3L1407.5 1045.2L1409.5 1045.1L1411.5 1045.0L1413.5 1044.9L1415.5 1044.9L1417.6 1044.8L1419.6 1044.7L1421.6 1044.6L1423.6 1044.5L1425.6 1044.5L1427.6 1044.4L1429.6 1044.3L1431.6 1044.2L1433.6 1044.1L1435.6 1044.1L1437.6 1044.0L1439.6 1043.9L1441.6 1043.9L1443.6 1043.8L1445.6 1043.7L1447.6 1043.6L1449.6 1043.6L1451.6 1043.5L1453.6 1043.4L1455.6 1043.4L1457.6 1043.3L1459.6 1043.2L1461.6 1043.2L1463.6 1043.1L1465.6 1043.0L1467.7 1043.0L1469.7 1042.9L1471.7 1042.8L1473.7 1042.8L1475.7 1042.7L1477.7 1042.6L1479.7 1042.6L1481.7 1042.5L1483.7 1042.5L1485.7 1042.4L1487.7 1042.3L1489.7 1042.3L1491.7 1042.2L1493.7 1042.2L1495.7 1042.1L1497.7 1042.1L1499.7 1042.0L1501.7 1041.9L1503.7 1041.9L1505.7 1041.8L1507.7 1041.8L1509.7 1041.7L1511.7 1041.7L1513.8 1041.6L1515.8 1041.6L1517.8 1041.5L1519.8 1041.5L1521.8 1041.4L1523.8 1041.4L1525.8 1041.3L1527.8 1041.3L1529.8 1041.2L1531.8 1041.2L1533.8 1041.1L1535.8 1041.1L1537.8 1041.0L1539.8 1041.0L1541.8 1041.0L1543.8 1040.9L1545.8 1040.9L1547.8 1040.8L1549.8 1040.8L1551.8 1040.7L1553.8 1040.7L1555.8 1040.7L1557.9 1040.6L1559.9 1040.6L1561.9 1040.5L1563.9 1040.5L1565.9 1040.5L1567.9 1040.4L1569.9 1040.4L1571.9 1040.3L1573.9 1040.3L1575.9 1040.3L1577.9 1040.2L1579.9 1040.2L1581.9 1040.2L1583.9 1040.1L1585.9 1040.1L1587.9 1040.1L1589.9 1040.0L1591.9 1040.0L1593.9 1040.0L1595.9 1039.9L1597.9 1039.9L1599.9 1039.9L1601.9 1039.8L1604.0 1039.8L1606.0 1039.8L1608.0 1039.7L1610.0 1039.7L1612.0 1039.7L1614.0 1039.7L1616.0 1039.6L1618.0 1039.6L1620.0 1039.6L1622.0 1039.5L1624.0 1039.5L1626.0 1039.5L1631.0 1038.3L1768.0 1038.3L1774.0 1039.8L1804.0 1039.8L1808.0 1041.2L1826.0 1041.2"/>
</g>
<rect x="253.1" y="101.6" width="414.6" height="256.8" fill="none" stroke="#888" stroke-width="3.4"/>
<g stroke-width="5.8">
<line x1="253" y1="140.5" x2="389" y2="140.5" stroke="#000"/>
<line x1="253" y1="245.2" x2="389" y2="245.2" stroke="#ff0000"/>
<line x1="253" y1="324.4" x2="389" y2="324.4" stroke="#0000ff"/>
</g>
<g class="sans" font-weight="bold" font-size="63.5" fill="#000">
<text x="404 425.8 465.8 505.1 523.6 563.6 581.5" y="161">fPd/SiO</text>
<text x="630.6" y="184.5">2</text>
<text x="403.2 423.8" y="266">f7</text>
<text x="404.2 441.8" y="345.4">u7</text>
</g>
<text class="sans" font-weight="bold" font-size="67" transform="translate(77.8 859) rotate(-90) scale(1 1.04)">TG (% mass)</text>
<g class="sans" font-size="66.5">
<text x="767.4" y="1412" font-weight="bold">Temperature</text>
<text x="1157.9" y="1419.8" font-family="IPAGothic, &quot;Liberation Sans&quot;, sans-serif" font-size="58">(</text>
<text x="1185.5" y="1413.9" font-family="&quot;Liberation Sans&quot;, IPAGothic, sans-serif" font-size="68">℃</text>
<text x="1259" y="1412" font-weight="bold" stroke="#fdfdfd" stroke-width="0.9">)</text>
</g>
</g>
</svg>
</body></html>
